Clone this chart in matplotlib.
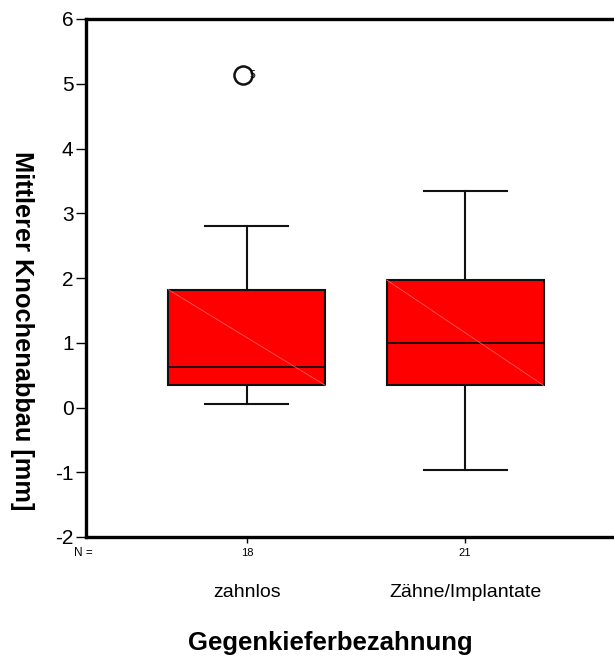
import matplotlib
matplotlib.use("Agg")
from matplotlib import pyplot as plt

plt.rcParams['font.family'] = ['Liberation Sans', 'DejaVu Sans']
plt.rcParams['axes.unicode_minus'] = False

groups = ["zahnlos", "Zähne/Implantate"]
counts = [18, 21]
q1 = [0.34, 0.34]
median = [0.62, 1.0]
q3 = [1.82, 1.97]
whislo = [0.05, -0.97]
whishi = [2.80, 3.35]
outliers = [[5.13], []]
outlier_ids = [["5"], []]

stats = []
for i in range(len(groups)):
    stats.append(dict(q1=q1[i], med=median[i], q3=q3[i], whislo=whislo[i],
                      whishi=whishi[i], fliers=outliers[i], label=groups[i]))

fig = plt.figure(figsize=(6.14, 6.59), dpi=100)
ax = fig.add_axes([86/614, 122/659, 540/614, 518/659])

pos = [1, 2]
bp = ax.bxp(stats, positions=pos, widths=0.72, patch_artist=True,
            showcaps=True, manage_ticks=False,
            boxprops=dict(facecolor='#ff0000', edgecolor='#111111', linewidth=1.5),
            medianprops=dict(color='#111111', linewidth=1.3),
            whiskerprops=dict(color='#111111', linewidth=1.5),
            capprops=dict(color='#111111', linewidth=1.5),
            flierprops=dict(marker='o', markersize=13, markerfacecolor='none',
                            markeredgecolor='#111111', markeredgewidth=1.8))
for c in bp['caps']:
    xd = c.get_xdata()
    m = (xd[0] + xd[1]) / 2
    c.set_xdata([m - 0.19, m + 0.19])
# circle sits a little left of the box centre, case number just right of it
for f in bp['fliers']:
    f.set_xdata([x - 0.018 for x in f.get_xdata()])

# faint diagonal inside each box
for i, p in enumerate(pos):
    ax.plot([p - 0.36, p + 0.36], [q3[i], q1[i]], color='#ff5a5a', lw=0.6, zorder=3)

for i, p in enumerate(pos):
    for v, lab in zip(outliers[i], outlier_ids[i]):
        ax.text(p + 0.012, v, lab, fontsize=7.5, va='center', ha='left')

ax.set_xlim(0.263, 2.737)
ax.set_ylim(-2, 6)
ax.set_yticks(range(-2, 7))
ax.tick_params(axis='y', labelsize=15, length=7, width=1, direction='out', pad=2)
ax.set_xticks(pos)
ax.set_xticklabels([str(n) for n in counts], fontsize=8)
ax.tick_params(axis='x', length=4, width=1, direction='out', pad=4)
for s in ['left', 'bottom', 'top']:
    ax.spines[s].set_linewidth(2.4)
ax.spines['right'].set_visible(False)

fig.text(83/614, 1 - 553/659, "N =", fontsize=8.5, ha='center', va='center')
for p, g in zip(pos, groups):
    ax.text(p, -2.85, g, fontsize=14, ha='center', va='center')

fig.text(22/614, 1 - 331/659, "Mittlerer Knochenabbau [mm]", fontsize=18.3,
         fontweight='bold', rotation=-90, ha='center', va='center')
fig.text(330/614, 1 - 643/659, "Gegenkieferbezahnung", fontsize=18.5, fontweight='bold',
         ha='center', va='center')

fig.savefig("out.png", dpi=100)
